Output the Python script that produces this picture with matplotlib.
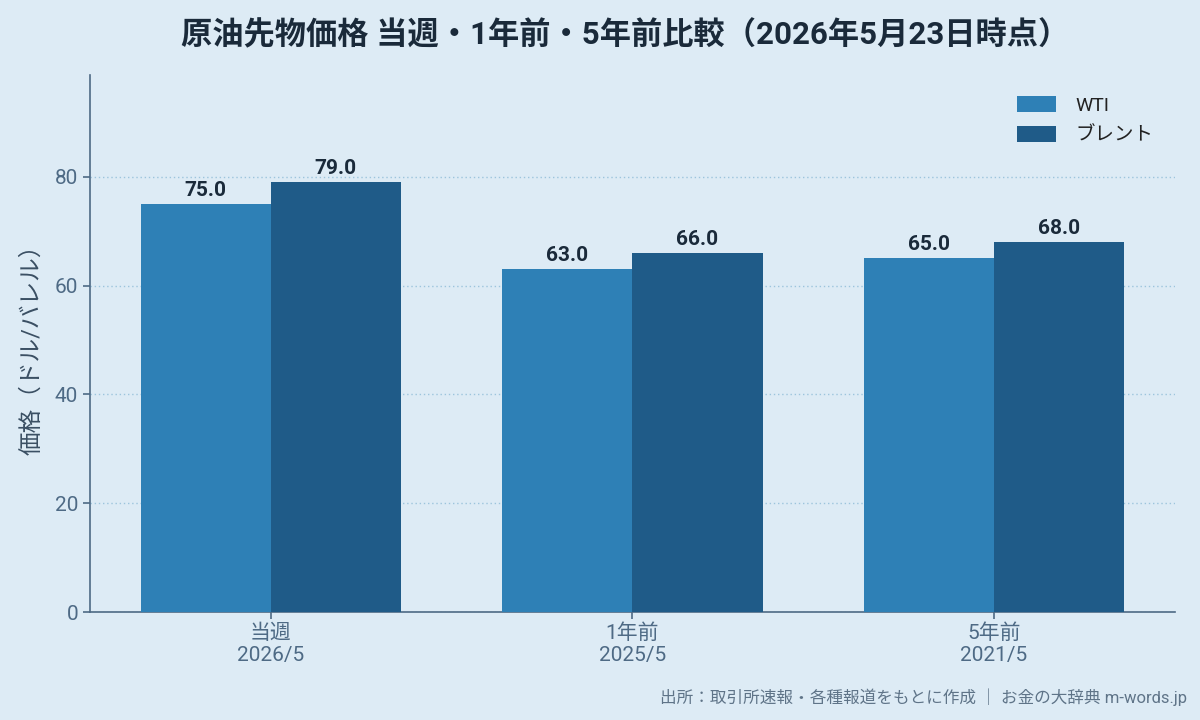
import numpy as np
import matplotlib
matplotlib.use("Agg")
import matplotlib.pyplot as plt

plt.rcParams['font.family'] = ['Roboto', 'Noto Sans CJK JP', 'DejaVu Sans']

categories = ['当週\n2026/5', '1年前\n2025/5', '5年前\n2021/5']
wti = [75.0, 63.0, 65.0]
brent = [79.0, 66.0, 68.0]

bg = '#ddebf5'
c_wti = '#2e80b6'
c_brent = '#1f5b88'
spine_c = '#4e6a85'
tick_c = '#4e6a85'
text_c = '#1a2a3a'

fig = plt.figure(figsize=(12, 7.2), dpi=100, facecolor=bg)
ax = fig.add_axes([0.075, 0.15, 0.904, 0.746])
ax.set_facecolor(bg)

x = np.arange(len(categories))
w = 0.36
b1 = ax.bar(x - w / 2, wti, w, color=c_wti, label='WTI', zorder=3)
b2 = ax.bar(x + w / 2, brent, w, color=c_brent, label='ブレント', zorder=3)

for bars in (b1, b2):
    for r in bars:
        ax.annotate(f'{r.get_height():.1f}', (r.get_x() + r.get_width() / 2, r.get_height()),
                    xytext=(0, 3), textcoords='offset points', ha='center', va='bottom',
                    fontsize=15, fontweight='bold', color=text_c, zorder=4)

ax.set_xlim(-0.5, 2.5)
ax.set_ylim(0, max(brent) * 1.25)
ax.set_yticks([0, 20, 40, 60, 80])
ax.set_xticks(x)
ax.set_xticklabels(categories)
ax.tick_params(axis='both', colors=tick_c, labelsize=15, length=5, width=1.2)
ax.yaxis.grid(True, linestyle=(0, (1, 2)), color='#9cc4dc', linewidth=1, zorder=0)
ax.xaxis.grid(False)
for s in ('top', 'right'):
    ax.spines[s].set_visible(False)
for s in ('left', 'bottom'):
    ax.spines[s].set_color(spine_c)
    ax.spines[s].set_linewidth(1.2)

ax.set_ylabel('価格（ドル/バレル）', fontsize=17, color='#3a4f63', labelpad=8)

leg = ax.legend(loc='upper right', frameon=False, fontsize=14, handlelength=2, handleheight=0.9,
                handletextpad=1.0, labelspacing=0.55, borderaxespad=0.7)
for t in leg.get_texts():
    t.set_color('#222222')

fig.text(0.521, 0.951, '原油先物価格 当週・1年前・5年前比較（2026年5月23日時点）', ha='center', va='center',
         fontsize=22.5, fontweight='bold', color=text_c)
fig.text(0.989, 0.032, '出所：取引所速報・各種報道をもとに作成 ｜ お金の大辞典 m-words.jp', ha='right', va='center',
         fontsize=12, color='#5f7488')

fig.savefig('out.png', dpi=100, facecolor=bg)
